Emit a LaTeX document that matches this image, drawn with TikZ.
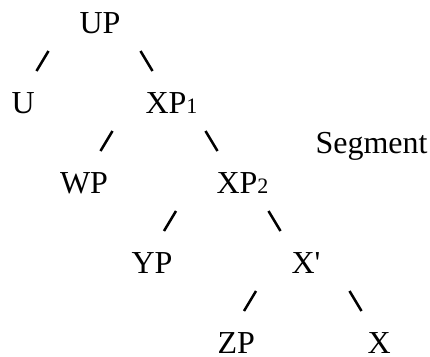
\documentclass[tikz,border=0pt]{standalone}
\usepackage{fontspec}
\setmainfont{Liberation Serif}
\newfontfamily\plainserif{Liberation Serif}
\begin{document}
\begin{tikzpicture}[x=1pt,y=-1pt,
  lbl/.style={anchor=base west,inner sep=0pt,outer sep=0pt,font=\plainserif\fontsize{32}{38}\selectfont},
  fwd/.style={line width=2.5pt}]
\newcommand{\subnum}[1]{{\fontsize{22}{22}\selectfont #1}}
\useasboundingbox (0,0) rectangle (430,356);
% labels
\node[lbl] (UP)  at (79.5,33)  {UP};
\node[lbl] (U)   at (11.5,113) {U};
\node[lbl] (XP1) at (145.5,113) {XP\subnum{1}};
\node[lbl] (WP)  at (60,193)   {WP};
\node[lbl] (XP2) at (216.5,193) {XP\subnum{2}};
\node[lbl] (Seg) at (315.5,153) {Segment};
\node[lbl] (YP)  at (131.5,273) {YP};
\node[lbl] (Xb)  at (291.5,273) {X'};
\node[lbl] (ZP)  at (217.5,353) {ZP};
\node[lbl] (X)   at (367.5,353) {X};
% slash positions
\coordinate (s1) at (42.5,61);
\coordinate (b1) at (146.5,61);
\coordinate (s2) at (106.5,141);
\coordinate (b2) at (211.5,141);
\coordinate (s3) at (170,221);
\coordinate (b3) at (274.5,221);
\coordinate (s4) at (250,301);
\coordinate (b4) at (355.5,301);
\foreach \c in {s1,s2,s3,s4}
  \draw[fwd] ([shift={(-6,10)}]\c) -- ([shift={(6,-10)}]\c);
\foreach \c in {b1,b2,b3,b4}
  \draw[fwd] ([shift={(-6,-10)}]\c) -- ([shift={(6,10)}]\c);
\end{tikzpicture}
\end{document}
